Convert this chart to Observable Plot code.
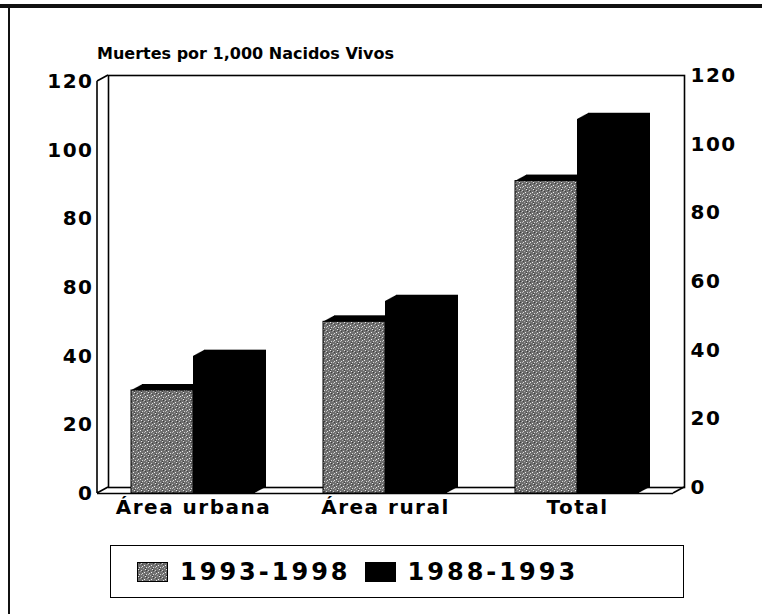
<!DOCTYPE html>
<html>
<head>
<meta charset="utf-8">
<script src="https://cdn.jsdelivr.net/npm/d3@7"></script>
<script src="https://cdn.jsdelivr.net/npm/@observablehq/plot@0.6"></script>
<style>
  html, body { margin: 0; padding: 0; background: #fff; }
  #wrap { position: relative; width: 762px; height: 614px; overflow: hidden; background: #fff;
          font-family: "DejaVu Sans", sans-serif; font-weight: bold; color: #000; }
  #topline { position: absolute; left: 0; top: 4px; width: 762px; height: 4px; background: #111; }
  #leftline { position: absolute; left: 8px; top: 4px; width: 2px; height: 610px; background: #111; }
  #title { position: absolute; left: 97px; top: 44px; font-size: 16px; letter-spacing: 0px; white-space: nowrap; }
  #legend { position: absolute; left: 110px; top: 545px; width: 574px; height: 53px;
            border: 1.5px solid #000; display: flex; align-items: center; padding-left: 26px; box-sizing: border-box; }
  .sw { width: 31px; height: 20px; display: inline-block; margin-right: 12px; }
  .lt { font-size: 24px; letter-spacing: 3px; margin-right: 14px; white-space: nowrap; }
  #plot { position: absolute; left: 0; top: 0; }
</style>
</head>
<body>
<svg width="0" height="0" style="position:absolute">
  <defs>
    <pattern id="stipple" width="7" height="7" patternUnits="userSpaceOnUse">
      <rect width="7" height="7" fill="#6f6f6f"/>
      <rect x="1" y="0" width="1" height="1" fill="#e8e8e8"/>
      <rect x="4" y="1" width="1" height="1" fill="#cfcfcf"/>
      <rect x="0" y="3" width="1" height="1" fill="#f0f0f0"/>
      <rect x="5" y="4" width="1" height="1" fill="#e0e0e0"/>
      <rect x="2" y="5" width="1" height="1" fill="#d8d8d8"/>
      <rect x="3" y="2" width="1" height="1" fill="#9a9a9a"/>
      <rect x="6" y="6" width="1" height="1" fill="#a8a8a8"/>
      <rect x="2" y="1" width="1" height="1" fill="#3a3a3a"/>
      <rect x="5" y="2" width="1" height="1" fill="#444"/>
      <rect x="1" y="6" width="1" height="1" fill="#3f3f3f"/>
      <rect x="4" y="5" width="1" height="1" fill="#bbbbbb"/>
    </pattern>
  </defs>
</svg>
<div id="wrap">
  <div id="topline"></div>
  <div id="leftline"></div>
  <div id="title">Muertes por 1,000 Nacidos Vivos</div>
  <div id="plot"></div>
  <div id="legend">
    <span class="sw" id="sw1"></span><span class="lt">1993-1998</span>
    <span class="sw" style="background:#000;"></span><span class="lt">1988-1993</span>
  </div>
</div>
<script>
// ---- data ----
const categories = ["Área urbana", "Área rural", "Total"];
const seriesNames = ["1993-1998", "1988-1993"];
const values1993_1998 = [30, 50, 91];
const values1988_1993 = [40, 56, 109];
const yTicks = [0, 20, 40, 60, 80, 100, 120];
const leftTickLabels = ["0", "20", "40", "80", "80", "100", "120"];
const rightTickLabels = ["0", "20", "40", "60", "80", "100", "120"];

const rowsA = categories.map((c, i) => ({category: c, series: seriesNames[0], value: values1993_1998[i]}));
const rowsB = categories.map((c, i) => ({category: c, series: seriesNames[1], value: values1988_1993[i]}));

// depth offset of the 3-D box
const DX = 11, DY = -6;
const HALF = 62;

function walls(index, scales, values, dimensions) {
  const {width, height, marginLeft, marginRight, marginTop, marginBottom} = dimensions;
  const x0 = marginLeft, x1 = width - marginRight, y0 = marginTop, y1 = height - marginBottom;
  const g = d3.create("svg:g").attr("fill", "none").attr("stroke", "#000").attr("stroke-width", 1.6);
  g.append("path").attr("d",
    `M${x0},${y0}L${x0},${y1}` +
    `M${x0},${y0}l${DX},${DY}` +
    `M${x0},${y1}l${DX},${DY}` +
    `M${x1},${y1}l${DX},${DY}`);
  return g.node();
}

const extrusion = [];
for (let k = 1; k <= 10; k++) {
  const dx = DX * k / 10, dy = DY * k / 10;
  extrusion.push(Plot.barY(rowsA, {x: "category", y: "value", fill: "#000", insetRight: HALF, dx, dy}));
  extrusion.push(Plot.barY(rowsB, {x: "category", y: "value", fill: "#000", insetLeft: HALF, dx, dy}));
}

const chart = Plot.plot({
  width: 762,
  height: 614,
  marginLeft: 97,
  marginRight: 89,
  marginTop: 81,
  marginBottom: 121,
  style: {fontFamily: "DejaVu Sans", fontWeight: "bold", fontSize: "20px", color: "#000", background: "transparent", overflow: "visible"},
  x: {domain: categories, paddingInner: 0.354, paddingOuter: 0.177, label: null},
  y: {domain: [0, 120], label: null},
  marks: [
    Plot.frame({dx: DX, dy: DY, stroke: "#000", strokeWidth: 1.6}),
    walls,
    Plot.ruleY([0], {stroke: "#000", strokeWidth: 1.6}),
    ...extrusion,
    Plot.barY(rowsA, {x: "category", y: "value", fill: "url(#stipple)", stroke: "#000", strokeWidth: 1, insetRight: HALF}),
    Plot.barY(rowsB, {x: "category", y: "value", fill: "#000", insetLeft: HALF}),
    Plot.axisX({tickSize: 0, tickPadding: 6, fontSize: 20, label: null, style: "letter-spacing:3px"}),
    Plot.axisY({anchor: "left", ticks: yTicks, tickSize: 0, tickPadding: 4, label: null,
      tickFormat: d => leftTickLabels[yTicks.indexOf(d)]}),
    Plot.axisY({anchor: "right", ticks: yTicks, tickSize: 0, tickPadding: 6, label: null, dx: DX, dy: DY,
      tickFormat: d => rightTickLabels[yTicks.indexOf(d)]})
  ]
});
chart.style.letterSpacing = "1.5px";
document.getElementById("plot").appendChild(chart);

// legend swatch with same stipple texture
const sw1 = document.getElementById("sw1");
sw1.innerHTML = '<svg width="31" height="20" style="display:block"><rect x="0.5" y="0.5" width="30" height="19" fill="url(#stipple)" stroke="#000" stroke-width="1"/></svg>';
</script>
</body>
</html>
